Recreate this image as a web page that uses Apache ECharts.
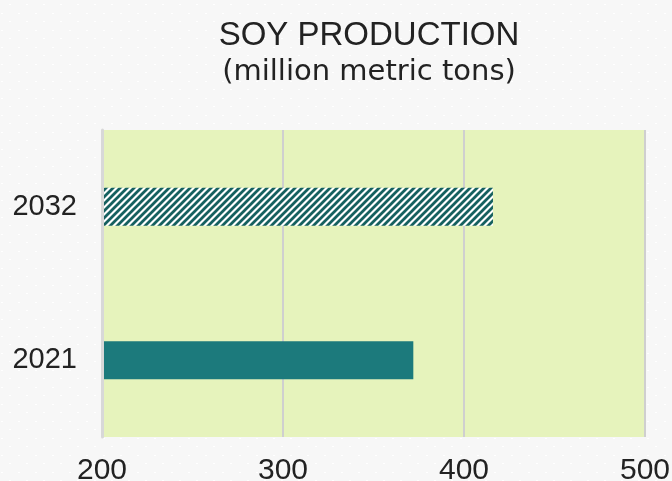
<!DOCTYPE html>
<html lang="en">
  <head>
    <meta charset="UTF-8" />
    <title>Soy production</title>
    <script src="https://cdn.jsdelivr.net/npm/echarts@6/dist/echarts.min.js"></script>
    <style>
      html, body { margin: 0; padding: 0; background: #f7f7f7; }
      .box { width: 672px; height: 481px; }
    </style>
  </head>
  <body>
    <div class="box"></div>
    <script>
      // data
      var years = ["2021", "2032"];
      var production = [372, 416];
      var xTicks = [200, 300, 400, 500];

      // diagonal hatch for the projected bar
      function hatch() {
        var s = 7;
        var c = document.createElement("canvas");
        c.width = s;
        c.height = s;
        var ctx = c.getContext("2d");
        ctx.fillStyle = "#ffffff";
        ctx.fillRect(0, 0, s, s);
        ctx.strokeStyle = "#15605f";
        ctx.lineWidth = 2.8;
        ctx.beginPath();
        [0, s, 2 * s].forEach(function (k) {
          ctx.moveTo(k + 2, -2);
          ctx.lineTo(k - s - 2, s + 2);
        });
        ctx.stroke();
        return c;
      }

      // faint dotted page background
      function dots() {
        var c = document.createElement("canvas");
        c.width = 17;
        c.height = 17;
        var ctx = c.getContext("2d");
        ctx.fillStyle = "#f7f7f7";
        ctx.fillRect(0, 0, 17, 17);
        ctx.fillStyle = "#ffffff";
        ctx.fillRect(9, 4, 2, 1);
        ctx.fillRect(1, 13, 2, 1);
        return c;
      }

      var box = document.getElementsByClassName("box")[0];
      var chart = echarts.init(box);

      var barData = production.map(function (v, i) {
        return {
          value: v,
          itemStyle: i === 1
            ? { color: { image: hatch(), repeat: "repeat" } }
            : { color: "#1c7a7c" },
        };
      });

      chart.setOption({
        animation: false,
        backgroundColor: { image: dots(), repeat: "repeat" },
        title: {
          text: "SOY PRODUCTION",
          subtext: "(million metric tons)",
          left: 364,
          top: 14,
          textAlign: "center",
          itemGap: 6,
          textStyle: {
            fontFamily: "Liberation Sans",
            fontSize: 33,
            fontWeight: "normal",
            color: "#222222",
          },
          subtextStyle: {
            fontFamily: "DejaVu Sans",
            fontSize: 29,
            color: "#222222",
          },
        },
        grid: {
          left: 102,
          right: 27,
          top: 130,
          bottom: 44,
          outerBoundsMode: "none",
          show: true,
          backgroundColor: "#e6f3bc",
          borderWidth: 0,
        },
        xAxis: {
          type: "value",
          min: xTicks[0],
          max: xTicks[xTicks.length - 1],
          interval: 100,
          axisLine: { show: false },
          axisTick: { show: false },
          axisLabel: {
            margin: 19,
            fontFamily: "Liberation Sans",
            fontSize: 30,
            color: "#222222",
          },
          splitLine: {
            lineStyle: { color: "#cfcfcf", width: 2 },
          },
        },
        yAxis: {
          type: "category",
          data: years,
          z: 5,
          axisLine: { show: true, lineStyle: { color: "#d8d8d8", width: 3 } },
          axisTick: { show: false },
          axisLabel: {
            margin: 25,
            fontFamily: "Liberation Sans",
            fontSize: 29,
            color: "#222222",
          },
        },
        series: [
          {
            type: "bar",
            data: barData,
            barWidth: 38,
          },
        ],
      });
    </script>
  </body>
</html>
